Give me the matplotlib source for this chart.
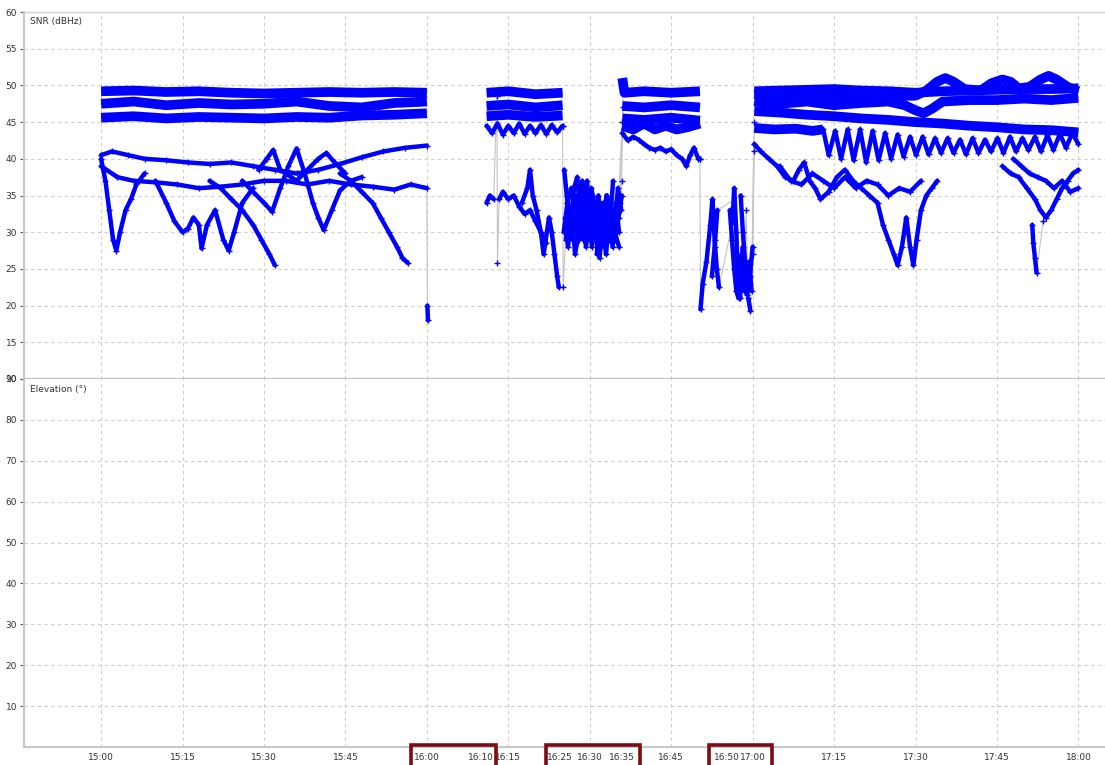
import numpy as np
import matplotlib.pyplot as plt
import matplotlib.transforms as mtransforms
from matplotlib.patches import Rectangle

# Time axis: minutes after 15:00. SNR in dBHz, one pair of lists per satellite pass.

# 15:00 - 16:00
a_hi1_t = [0, 6, 12, 18, 24, 30, 36, 42, 48, 54, 60]
a_hi1_snr = [49.2, 49.3, 49.1, 49.2, 49.0, 48.9, 49.0, 49.1, 49.0, 49.1, 49.0]
a_hi2_t = [0, 6, 12, 18, 24, 30, 36, 42, 48, 54, 60]
a_hi2_snr = [47.5, 47.8, 47.3, 47.6, 47.4, 47.5, 47.8, 47.2, 47.0, 47.6, 47.8]
a_hi3_t = [0, 6, 12, 18, 24, 30, 36, 42, 48, 54, 60]
a_hi3_snr = [45.6, 45.8, 45.5, 45.7, 45.6, 45.5, 45.7, 45.6, 45.9, 46.0, 46.2]

a_lo1_t = [0, 2, 5, 8, 12, 16, 20, 24, 28, 32, 36, 40, 44, 48, 52, 56, 60]
a_lo1_snr = [40.5, 41.0, 40.5, 40.0, 39.8, 39.5, 39.3, 39.5, 39.0, 38.5, 38.0, 38.5, 39.3, 40.2, 41.0, 41.5, 41.8]
a_lo2_t = [0, 3, 6, 10, 14, 18, 22, 26, 30, 34, 38, 42, 46, 50, 54, 57, 60, 60.1, 60.2]
a_lo2_snr = [39.0, 37.5, 37.0, 36.8, 36.5, 36.0, 36.2, 36.5, 37.0, 37.0, 36.5, 37.0, 36.5, 36.2, 35.8, 36.5, 36.0, 20.0, 18.0]
a_lo3_t = [0, 0.8, 1.5, 2.2, 2.8, 3.5, 4.5, 5.5, 6.5, 8]
a_lo3_snr = [40.0, 37.0, 33.0, 29.0, 27.5, 30.0, 33.0, 34.5, 36.5, 38.0]
a_lo4_t = [10, 12, 13.5, 15, 16, 17, 18, 18.5, 19.5, 21, 22.5, 23.5, 24.5, 26, 28]
a_lo4_snr = [37.0, 34.0, 31.5, 30.0, 30.5, 32.0, 31.0, 27.8, 31.0, 33.0, 29.0, 27.5, 30.0, 34.0, 36.0]
a_lo5_t = [26, 28, 30, 31.5, 33, 34.5, 36, 37.5, 39, 40, 41, 42.5, 44, 46, 48]
a_lo5_snr = [37.0, 35.5, 34.0, 32.8, 36.0, 39.0, 41.4, 38.0, 34.0, 32.0, 30.3, 33.0, 35.7, 37.0, 37.5]
a_lo6_t = [20, 22, 24, 26, 28, 29.5, 31, 32]
a_lo6_snr = [37.0, 36.0, 34.5, 33.0, 31.0, 29.0, 27.0, 25.5]
a_lo7_t = [44, 46, 48, 50, 51.5, 53, 54.5, 55.5, 56.5]
a_lo7_snr = [38.0, 37.0, 35.5, 34.0, 32.0, 30.0, 28.0, 26.5, 25.8]
a_lo8_t = [29, 30.5, 31.7, 33, 36, 38, 40, 41.5, 43, 45]
a_lo8_snr = [38.5, 40.0, 41.2, 38.5, 37.0, 38.5, 40.0, 40.8, 39.5, 38.0]

# 16:10 - 16:25
b_hi1_t = [71, 75, 80, 85]
b_hi1_snr = [49.0, 49.2, 48.8, 49.0]
b_hi2_t = [71, 75, 80, 85]
b_hi2_snr = [47.2, 47.4, 47.0, 47.3]
b_hi3_t = [71, 75, 80, 85]
b_hi3_snr = [45.8, 46.0, 45.7, 45.9]
b_hi4_t = [71, 72, 73, 74, 75, 76, 77, 78, 79, 80, 81, 82, 83, 84, 85]
b_hi4_snr = [44.5, 43.5, 44.8, 43.3, 44.5, 43.5, 44.8, 43.4, 44.5, 43.5, 44.6, 43.4, 44.6, 43.6, 44.5]
b_lo1_t = [71, 71.6, 72.3, 72.9, 73, 73.3, 74, 75, 76, 77, 78, 79, 80, 81, 82]
b_lo1_snr = [34.0, 35.0, 34.5, 48.5, 25.8, 34.5, 35.5, 34.5, 35.0, 33.5, 32.5, 33.0, 31.5, 30.0, 28.5]
b_lo2_t = [77.5, 78.5, 79, 79.5, 80.2, 81, 81.5, 82.5, 83, 83.5, 84, 84.3]
b_lo2_snr = [34.0, 36.0, 38.5, 35.0, 33.0, 30.0, 27.0, 32.0, 30.0, 27.0, 24.0, 22.5]

# 16:25 - 16:36
c_lo1_t = [85, 85.1, 85.6, 86.2, 86.8, 87.4, 88, 88.6, 89.2, 89.8, 90.4, 91, 91.6, 92.2,
           92.8, 93.4, 94, 94.6, 95.2, 95.8, 96.1]
c_lo1_snr = [44.5, 22.5, 30.0, 33.0, 29.0, 35.0, 31.0, 36.0, 30.0, 33.0, 28.0, 32.0, 35.0, 30.0,
             34.0, 29.0, 33.0, 31.0, 36.0, 33.0, 49.0]
c_lo2_t = [85.3, 85.9, 86.5, 87.1, 87.7, 88.3, 88.9, 89.5, 90.1, 90.7, 91.3, 91.9, 92.5, 93.1,
           93.7, 94.3, 94.9, 95.5, 96.2]
c_lo2_snr = [38.5, 34.0, 31.0, 36.0, 37.5, 32.0, 35.0, 37.0, 31.0, 34.0, 27.0, 33.0, 29.0, 35.0,
             31.0, 37.0, 30.0, 34.0, 47.0]
c_lo3_t = [85.5, 86, 86.7, 87.3, 88, 88.6, 89.3, 90, 90.6, 91.2, 91.8, 92.4, 93, 93.6, 94.2,
           94.8, 95.4, 95.9]
c_lo3_snr = [32.0, 28.0, 33.0, 27.0, 30.0, 34.0, 28.0, 32.0, 35.0, 29.0, 26.5, 31.0, 27.0, 32.0,
             28.0, 34.0, 30.0, 37.0]
c_lo4_t = [85.8, 86.5, 87.2, 88, 88.8, 89.6, 90.4, 91.2, 92, 92.8, 93.6, 94.4, 95.2, 96]
c_lo4_snr = [35.0, 31.0, 34.0, 29.0, 32.0, 30.0, 33.0, 30.0, 28.0, 32.0, 29.0, 31.0, 33.0, 45.0]
c_lo5_t = [85.2, 85.9, 86.6, 87.4, 88.1, 88.8, 89.5, 90.3, 91, 91.7, 92.4, 93.2, 93.9, 94.6,
           95.3, 95.9]
c_lo5_snr = [30.0, 34.0, 36.0, 33.0, 35.0, 29.0, 31.0, 36.0, 33.0, 30.0, 34.0, 30.0, 33.0, 29.0,
             32.0, 35.0]
c_lo6_t = [85.6, 86.4, 87.1, 87.9, 88.6, 89.4, 90.1, 90.9, 91.6, 92.4, 93.1, 93.9, 94.6, 95.4]
c_lo6_snr = [29.0, 33.0, 30.0, 34.0, 37.0, 33.0, 29.0, 31.0, 34.0, 31.0, 35.0, 33.0, 30.0, 28.0]

# 16:36 - 16:50
d_hi1_t = [96, 96.4, 100, 105, 110.3]
d_hi1_snr = [51.0, 49.0, 49.2, 49.0, 49.2]
d_hi2_t = [96, 100, 105, 110.3]
d_hi2_snr = [47.2, 47.0, 47.3, 47.0]
d_hi3_t = [96, 100, 105, 110.3]
d_hi3_snr = [45.5, 45.3, 45.6, 45.2]
d_hi4_t = [96, 98, 100, 102, 104, 106, 108, 110.3]
d_hi4_snr = [44.5, 44.0, 44.8, 44.0, 44.5, 44.0, 44.3, 44.8]
d_lo1_t = [96, 97, 98, 99, 100, 101, 102, 103, 104, 105, 106, 107, 107.8, 108.5, 109.2, 110, 110.3]
d_lo1_snr = [43.5, 42.5, 43.0, 42.6, 42.0, 41.5, 41.2, 41.5, 41.0, 41.3, 40.5, 40.0, 39.0, 40.5,
             41.5, 40.0, 40.0]

# 16:50 - 17:00
e_lo1_t = [110.3, 110.4, 110.8, 111.5, 112.2, 112.6, 113, 113.4, 113.8, 116.3, 116.6, 117,
           117.3, 117.7, 118, 118.4, 118.8, 119.2, 119.6, 120, 120.3]
e_lo1_snr = [40.0, 19.5, 23.0, 26.0, 31.0, 34.5, 29.0, 25.0, 22.5, 31.4, 36.0, 30.0,
             24.0, 21.0, 27.0, 22.0, 33.0, 21.0, 19.3, 27.0, 45.0]
e_lo2_t = [115.8, 116.2, 116.6, 117, 117.4, 117.8, 118.2, 118.6, 119, 119.4, 119.8, 120.2]
e_lo2_snr = [33.0, 29.0, 25.0, 22.0, 21.0, 24.0, 28.0, 23.0, 21.5, 26.0, 22.0, 42.0]
e_lo3_t = [112.5, 113, 113.5, 117.8, 118.2, 118.6, 119, 119.5, 120, 120.3]
e_lo3_snr = [24.0, 28.0, 33.0, 35.0, 30.0, 26.0, 22.0, 24.0, 28.0, 41.0]

# 17:00 - 18:00
f_hi1_t = [120.3, 125, 130, 135, 140, 145, 150, 155, 160, 165, 170, 175, 180]
f_hi1_snr = [49.2, 49.3, 49.4, 49.5, 49.3, 49.2, 49.0, 49.2, 49.3, 49.4, 49.5, 49.5, 49.6]
f_hi0_t = [120.3, 130, 140, 150, 152, 154, 155.5, 157, 159, 162, 164, 166, 167.5, 169, 171,
           173, 174.5, 176, 178, 180]
f_hi0_snr = [48.8, 48.6, 48.5, 48.6, 49.3, 50.5, 51.0, 50.5, 49.5, 49.3, 50.3, 50.8, 50.5, 49.6,
             49.8, 50.8, 51.3, 50.8, 49.8, 49.2]
f_hi2_t = [120.3, 125, 130, 135, 140, 145, 148, 150, 151.5, 153, 155, 160, 165, 170, 175, 180]
f_hi2_snr = [47.8, 47.5, 47.8, 47.3, 47.6, 47.8, 47.3, 46.6, 46.2, 46.8, 47.8, 48.0, 48.0, 48.2,
             48.0, 48.3]
f_hi3_t = [120.3, 125, 130, 135, 140, 145, 150, 155, 160, 165, 170, 175, 180]
f_hi3_snr = [46.5, 46.3, 46.0, 45.8, 45.5, 45.3, 45.0, 44.8, 44.5, 44.3, 44.0, 43.9, 43.6]
f_hi4_t = [120.3, 124, 128, 131, 133]
f_hi4_snr = [44.2, 44.0, 44.1, 43.8, 44.0]
f_wave_t = [133, 134, 135.2, 136.3, 137.5, 138.6, 139.8, 140.9, 142.1, 143.2, 144.4, 145.5,
            146.7, 147.8, 149, 150.1, 151.3, 152.4, 153.6, 154.7, 155.9, 157, 158.2, 159.3,
            160.5, 161.6, 162.8, 163.9, 165.1, 166.2, 167.4, 168.5, 169.7, 170.8, 172, 173.1,
            174.3, 175.4, 176.6, 177.7, 178.9, 180]
f_wave_snr = [44.0, 40.5, 43.8, 40.0, 44.0, 39.8, 44.0, 39.5, 43.8, 39.8, 43.5, 40.0,
              43.3, 40.3, 43.0, 40.5, 43.0, 40.6, 42.8, 40.8, 42.8, 40.8, 42.6, 40.6,
              42.8, 40.8, 42.6, 41.0, 42.8, 40.8, 43.0, 41.0, 42.8, 41.2, 43.0, 41.0,
              43.2, 41.2, 43.4, 41.5, 43.5, 42.0]
f_lo1_t = [120.3, 121.5, 123, 124.5, 126, 127.5, 128.5, 129.5, 130.5, 131.5, 132.5, 134, 135.5,
           137, 138.5, 140, 141.5, 143, 144, 145, 146, 146.7, 147.5, 148.3, 149, 149.6, 150.2,
           151, 152, 153, 154]
f_lo1_snr = [42.0, 41.0, 40.0, 39.0, 37.5, 37.0, 38.5, 39.5, 37.0, 36.0, 34.5, 35.5, 37.5,
             38.5, 37.0, 36.0, 35.0, 34.0, 31.0, 29.0, 27.0, 25.5, 28.0, 32.0, 28.0, 25.5, 29.0,
             33.0, 35.0, 36.0, 37.0]
f_lo2_t = [125, 127, 129, 131, 133, 135, 137, 139, 141, 143, 145, 147, 149, 151]
f_lo2_snr = [39.0, 37.0, 36.5, 38.0, 37.0, 36.0, 37.5, 36.0, 37.0, 36.5, 35.0, 36.0, 35.5, 37.0]
f_lo3_t = [166, 167.5, 169, 170.5, 172, 173, 174, 175, 176, 177, 178, 179, 180]
f_lo3_snr = [39.0, 38.0, 37.5, 36.0, 34.5, 33.0, 32.0, 33.0, 34.5, 36.0, 37.0, 38.0, 38.5]
f_lo4_t = [168, 169.5, 171, 172.5, 174, 175.5, 177, 178.5, 180]
f_lo4_snr = [40.0, 39.0, 38.0, 37.5, 37.0, 36.0, 37.0, 35.5, 36.0]
f_lo5_t = [171.5, 171.7, 172, 172.3, 173.5]
f_lo5_snr = [31.0, 28.5, 26.5, 24.5, 31.5]

bands = [
    (a_hi1_t, a_hi1_snr), (a_hi2_t, a_hi2_snr), (a_hi3_t, a_hi3_snr),
    (b_hi1_t, b_hi1_snr), (b_hi2_t, b_hi2_snr), (b_hi3_t, b_hi3_snr),
    (d_hi1_t, d_hi1_snr), (d_hi2_t, d_hi2_snr), (d_hi3_t, d_hi3_snr), (d_hi4_t, d_hi4_snr),
    (f_hi1_t, f_hi1_snr), (f_hi0_t, f_hi0_snr), (f_hi2_t, f_hi2_snr), (f_hi3_t, f_hi3_snr),
    (f_hi4_t, f_hi4_snr),
]
threads = [
    (a_lo1_t, a_lo1_snr), (a_lo2_t, a_lo2_snr), (a_lo3_t, a_lo3_snr), (a_lo4_t, a_lo4_snr),
    (a_lo5_t, a_lo5_snr), (a_lo6_t, a_lo6_snr), (a_lo7_t, a_lo7_snr), (a_lo8_t, a_lo8_snr),
    (b_hi4_t, b_hi4_snr), (b_lo1_t, b_lo1_snr), (b_lo2_t, b_lo2_snr),
    (c_lo1_t, c_lo1_snr), (c_lo2_t, c_lo2_snr), (c_lo3_t, c_lo3_snr), (c_lo4_t, c_lo4_snr),
    (c_lo5_t, c_lo5_snr), (c_lo6_t, c_lo6_snr),
    (d_lo1_t, d_lo1_snr),
    (e_lo1_t, e_lo1_snr), (e_lo2_t, e_lo2_snr), (e_lo3_t, e_lo3_snr),
    (f_wave_t, f_wave_snr), (f_lo1_t, f_lo1_snr), (f_lo2_t, f_lo2_snr), (f_lo3_t, f_lo3_snr),
    (f_lo4_t, f_lo4_snr), (f_lo5_t, f_lo5_snr),
]

grid_ticks = [0, 15, 30, 45, 60, 75, 90, 105, 120, 135, 150, 165, 180]
grid_labels = ['15:00', '15:15', '15:30', '15:45', '16:00', '16:15', '16:30', '16:45',
               '17:00', '17:15', '17:30', '17:45', '18:00']
extra_ticks = [70, 84.5, 96, 115.3]
extra_labels = ['16:10', '16:25', '16:35', '16:50']

# groups of labels framed at the bottom, in minutes
frames = [(57.1, 72.7), (81.95, 99.3), (112.0, 123.6)]

snr_ticks = [10, 15, 20, 25, 30, 35, 40, 45, 50, 55, 60]
elev_ticks = [10, 20, 30, 40, 50, 60, 70, 80, 90]

BLUE = '#0000ff'
LINK = '#c4c4c4'
TEXT = '#333333'
GRID = '#cdcdcd'


def blue_runs(t, v, max_dt=12.0, max_dv=6.0):
    # break the blue trace where the receiver jumps; the grey link still shows the jump
    xs, ys = [t[0]], [v[0]]
    for i in range(1, len(t)):
        if t[i] - t[i - 1] > max_dt or abs(v[i] - v[i - 1]) > max_dv:
            xs.append(np.nan)
            ys.append(np.nan)
        xs.append(t[i])
        ys.append(v[i])
    return xs, ys


fig = plt.figure(figsize=(11.05, 7.65), dpi=100)
W, H = 1105, 765
left = 24 / W
ax1 = fig.add_axes([left, 1 - 379 / H, 1 - left, 367 / H])
ax2 = fig.add_axes([left, 1 - 747 / H, 1 - left, 368 / H], sharex=ax1)

for t, v in bands:
    ax1.plot(t, v, color=LINK, lw=0.8, zorder=2)
    bx, by = blue_runs(t, v)
    ax1.plot(bx, by, color=BLUE, lw=7, solid_capstyle='butt', zorder=3)

for t, v in threads:
    ax1.plot(t, v, color=LINK, lw=0.8, zorder=2)
    bx, by = blue_runs(t, v, max_dt=4.1)
    ax1.plot(bx, by, color=BLUE, lw=3.2, solid_capstyle='round', zorder=3)
    ax1.plot(t, v, ls='none', marker='+', ms=5, mew=1.0, color=BLUE, zorder=4)

ax1.set_xlim(-14.2, 184.9)
ax1.set_ylim(10, 60)
ax2.set_ylim(0, 90)

for ax, yt in ((ax1, snr_ticks), (ax2, elev_ticks)):
    ax.set_yticks(yt)
    ax.set_xticks(grid_ticks)
    for y in yt:
        if y not in (ax.get_ylim()):
            ax.axhline(y, color=GRID, lw=0.8, ls=(0, (3, 3)), zorder=1)
    for x in grid_ticks:
        ax.axvline(x, color=GRID, lw=0.8, ls=(0, (3, 3)), zorder=1)
    for side in ('top', 'right', 'bottom'):
        ax.spines[side].set_visible(False)
    ax.spines['left'].set_color('#c8c8c8')
    ax.spines['left'].set_linewidth(1.5)
    ax.tick_params(axis='y', length=3, width=0.8, color='#555555', labelsize=6.5,
                   labelcolor=TEXT, pad=2)

ax1.tick_params(axis='x', length=0, labelbottom=False)
ax1.spines['top'].set_visible(True)
ax1.spines['top'].set_color('#d0d0d0')
ax1.spines['top'].set_linewidth(1)
ax1.spines['bottom'].set_visible(True)
ax1.spines['bottom'].set_color('#c0c0c0')
ax1.spines['bottom'].set_linewidth(1.6)
ax2.spines['bottom'].set_visible(True)
ax2.spines['bottom'].set_color('#c8c8c8')
ax2.spines['bottom'].set_linewidth(1.5)

ax2.set_xticks(grid_ticks, grid_labels)
ax2.set_xticks(extra_ticks, extra_labels, minor=True)
ax2.tick_params(axis='x', which='both', length=0, labelsize=6.5, labelcolor=TEXT, pad=4)

ax1.text(0.0056, 0.987, 'SNR (dBHz)', transform=ax1.transAxes, ha='left', va='top',
         fontsize=6.5, color=TEXT)
ax2.text(0.0056, 0.985, 'Elevation (°)', transform=ax2.transAxes, ha='left', va='top',
         fontsize=6.5, color=TEXT)

# dark red frames around the bottom labels
trans = mtransforms.blended_transform_factory(ax2.transData, fig.transFigure)
for x0, x1 in frames:
    ax2.add_patch(Rectangle((x0, -0.05), x1 - x0, 0.05 + 1 - 745 / H, transform=trans,
                            fill=False, edgecolor='#7f0a14', lw=2.6, clip_on=False, zorder=10))

fig.savefig('out.png', dpi=100)
